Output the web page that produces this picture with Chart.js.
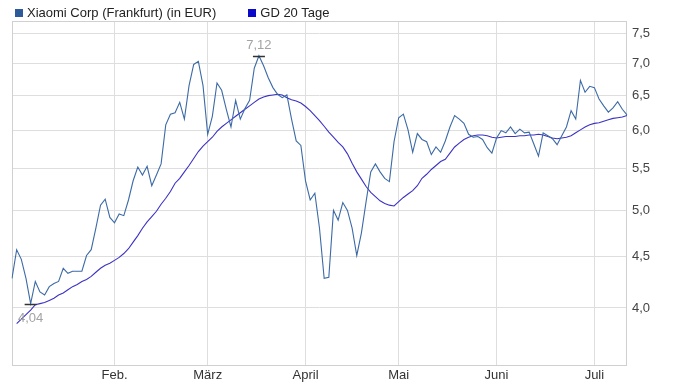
<!DOCTYPE html>
<html lang="de">
<head>
<meta charset="utf-8">
<script src="https://cdn.jsdelivr.net/npm/chart.js@4/dist/chart.umd.min.js"></script>
<style>
    html, body { margin: 0; padding: 0; background: #fff; }
    #wrap { position: relative; width: 676px; height: 388px; }
    #kursChart { position: absolute; left: 0; top: 0; }
    #legende {
        position: absolute; left: 15px; top: 5px;
        display: flex; gap: 32px;
        font: 13px/15px "Liberation Sans", Arial, sans-serif; color: #222;
    }
    #legende .eintrag { display: flex; align-items: center; gap: 4px; white-space: nowrap; }
    #legende .kasten { display: inline-block; width: 8px; height: 8px; }
</style>
</head>
<body>
<div id="wrap">
    <canvas id="kursChart" width="676" height="388"></canvas>
    <div id="legende"></div>
</div>
<script>
// Handelstage Frankfurt, 02.01.2025 - 10.07.2025
const handelstage = [
    '02.01.','03.01.','06.01.','07.01.','08.01.','09.01.','10.01.','13.01.','14.01.','15.01.','16.01.','17.01.',
    '20.01.','21.01.','22.01.','23.01.','24.01.','27.01.','28.01.','29.01.','30.01.','31.01.',
    '03.02.','04.02.','05.02.','06.02.','07.02.','10.02.','11.02.','12.02.','13.02.','14.02.',
    '17.02.','18.02.','19.02.','20.02.','21.02.','24.02.','25.02.','26.02.','27.02.','28.02.',
    '03.03.','04.03.','05.03.','06.03.','07.03.','10.03.','11.03.','12.03.','13.03.','14.03.',
    '17.03.','18.03.','19.03.','20.03.','21.03.','24.03.','25.03.','26.03.','27.03.','28.03.','31.03.',
    '01.04.','02.04.','03.04.','04.04.','07.04.','08.04.','09.04.','10.04.','11.04.','14.04.',
    '15.04.','16.04.','17.04.','22.04.','23.04.','24.04.','25.04.','28.04.','29.04.','30.04.',
    '02.05.','05.05.','06.05.','07.05.','08.05.','09.05.','12.05.','13.05.','14.05.','15.05.','16.05.',
    '19.05.','20.05.','21.05.','22.05.','23.05.','26.05.','27.05.','28.05.','29.05.','30.05.',
    '02.06.','03.06.','04.06.','05.06.','06.06.','09.06.','10.06.','11.06.','12.06.','13.06.',
    '16.06.','17.06.','18.06.','19.06.','20.06.','23.06.','24.06.','25.06.','26.06.','27.06.','30.06.',
    '01.07.','02.07.','03.07.','04.07.','07.07.','08.07.','09.07.','10.07.'
];

// Schlusskurse in EUR
const kurs = [
    4.28, 4.57, 4.47, 4.28, 4.04, 4.25, 4.15, 4.12, 4.20, 4.23,
    4.25, 4.38, 4.33, 4.35, 4.35, 4.35, 4.51, 4.57, 4.80, 5.06,
    5.13, 4.92, 4.86, 4.96, 4.94, 5.12, 5.35, 5.52, 5.42, 5.53,
    5.29, 5.42, 5.56, 6.08, 6.23, 6.25, 6.40, 6.16, 6.65, 6.98,
    7.03, 6.65, 5.95, 6.20, 6.69, 6.58, 6.30, 6.05, 6.43, 6.16,
    6.31, 6.43, 6.92, 7.12, 6.96, 6.77, 6.62, 6.52, 6.47, 6.51,
    6.16, 5.86, 5.80, 5.35, 5.12, 5.20, 4.80, 4.28, 4.29, 5.00,
    4.89, 5.09, 5.00, 4.80, 4.51, 4.75, 5.10, 5.46, 5.56, 5.46,
    5.38, 5.34, 5.85, 6.18, 6.23, 6.01, 5.71, 5.96, 5.88, 5.85,
    5.68, 5.78, 5.71, 5.86, 6.05, 6.21, 6.16, 6.10, 5.95, 5.91,
    5.92, 5.88, 5.77, 5.70, 5.90, 6.00, 5.97, 6.05, 5.96, 6.02,
    5.97, 5.98, 5.82, 5.66, 5.97, 5.93, 5.89, 5.81, 5.93, 6.05,
    6.28, 6.16, 6.73, 6.55, 6.64, 6.62, 6.45, 6.35, 6.26, 6.32,
    6.41, 6.30, 6.22
];

// gleitender Durchschnitt 20 Tage
const gd20 = [
    null, 3.86, 3.90, 3.94, 3.98, 4.03, 4.04, 4.05, 4.07, 4.09,
    4.12, 4.14, 4.17, 4.20, 4.22, 4.25, 4.27, 4.30, 4.34, 4.38,
    4.41, 4.43, 4.46, 4.49, 4.53, 4.58, 4.65, 4.72, 4.80, 4.87,
    4.93, 4.99, 5.07, 5.14, 5.22, 5.32, 5.38, 5.46, 5.54, 5.63,
    5.72, 5.79, 5.85, 5.91, 5.99, 6.05, 6.10, 6.15, 6.20, 6.25,
    6.30, 6.35, 6.40, 6.45, 6.48, 6.50, 6.51, 6.52, 6.51, 6.47,
    6.44, 6.42, 6.39, 6.34, 6.28, 6.21, 6.14, 6.06, 5.98, 5.91,
    5.84, 5.78, 5.69, 5.57, 5.46, 5.37, 5.28, 5.21, 5.16, 5.11,
    5.08, 5.06, 5.05, 5.10, 5.15, 5.19, 5.23, 5.29, 5.38, 5.43,
    5.49, 5.54, 5.59, 5.62, 5.70, 5.78, 5.83, 5.88, 5.91, 5.93,
    5.94, 5.94, 5.93, 5.91, 5.90, 5.91, 5.92, 5.92, 5.92, 5.93,
    5.93, 5.94, 5.94, 5.95, 5.94, 5.92, 5.90, 5.89, 5.90, 5.91,
    5.93, 5.97, 6.01, 6.05, 6.08, 6.10, 6.11, 6.13, 6.15, 6.17,
    6.18, 6.19, 6.21
];

const monate = ['Jan.', 'Feb.', 'März', 'April', 'Mai', 'Juni', 'Juli'];
const yTicks = [4.0, 4.5, 5.0, 5.5, 6.0, 6.5, 7.0, 7.5];

const monatVon = (i) => parseInt(handelstage[i].slice(3, 5), 10);
// erster Handelstag jedes Monats (ohne Januar)
const monatsStart = handelstage
    .map((t, i) => i)
    .filter(i => i > 0 && monatVon(i) !== monatVon(i - 1));

const komma = (v, n) => v.toFixed(n).replace('.', ',');

Chart.defaults.font.family = '"Liberation Sans", Arial, sans-serif';
Chart.defaults.font.size = 13;
Chart.defaults.color = '#333';

// heller Rahmen um die Zeichenfläche
const rahmen = {
    id: 'rahmen',
    beforeDatasetsDraw(chart) {
        const { ctx, chartArea: a } = chart;
        ctx.save();
        ctx.strokeStyle = '#d0d0d0';
        ctx.lineWidth = 1;
        ctx.strokeRect(a.left + 0.5, a.top + 0.5, a.right - a.left - 1, a.bottom - a.top);
        ctx.restore();
    }
};

// Hoch / Tief markieren
const extremwerte = {
    id: 'extremwerte',
    afterDatasetsDraw(chart) {
        const { ctx, scales: { x, y } } = chart;
        const hoch = kurs.indexOf(Math.max(...kurs));
        const tief = kurs.indexOf(Math.min(...kurs));
        ctx.save();
        ctx.font = '13px "Liberation Sans", Arial, sans-serif';
        ctx.textAlign = 'center';
        ctx.textBaseline = 'middle';
        [[hoch, -11], [tief, 14]].forEach(([i, dy]) => {
            const px = x.getPixelForValue(i);
            const py = Math.round(y.getPixelForValue(kurs[i])) + 0.5;
            ctx.strokeStyle = '#333';
            ctx.lineWidth = 1.5;
            ctx.beginPath();
            ctx.moveTo(px - 6, py);
            ctx.lineTo(px + 6, py);
            ctx.stroke();
            ctx.fillStyle = '#a3a3a3';
            ctx.fillText(komma(kurs[i], 2), px, py + dy);
        });
        ctx.restore();
    }
};

const chart = new Chart(document.getElementById('kursChart'), {
    type: 'line',
    data: {
        labels: handelstage,
        datasets: [{
            label: 'Xiaomi Corp (Frankfurt) (in EUR)',
            data: kurs,
            borderColor: '#3c6aa6',
            backgroundColor: '#2d5a98',
            borderWidth: 1.1,
            pointRadius: 0,
            tension: 0
        }, {
            label: 'GD 20 Tage',
            data: gd20,
            borderColor: '#3b32c4',
            backgroundColor: '#0a0ac8',
            borderWidth: 1.1,
            pointRadius: 0,
            tension: 0
        }]
    },
    options: {
        responsive: false,
        animation: false,
        events: [],
        layout: { padding: { left: 12, top: 21, right: 0, bottom: 0 } },
        plugins: {
            legend: { display: false },
            tooltip: { enabled: false }
        },
        scales: {
            x: {
                type: 'category',
                offset: false,
                border: { display: false },
                grid: { color: '#dedede', drawTicks: false },
                ticks: {
                    autoSkip: false,
                    maxRotation: 0,
                    padding: 3,
                    color: '#333',
                    callback: (v) => monate[monatVon(v) - 1]
                },
                afterBuildTicks: (s) => { s.ticks = monatsStart.map(v => ({ value: v })); },
                afterFit: (s) => { s.height = 23; }
            },
            y: {
                type: 'logarithmic',
                position: 'right',
                min: 3.511,
                max: 7.709,
                border: { display: false },
                grid: { color: '#dedede', drawTicks: false },
                ticks: {
                    padding: 5,
                    color: '#444',
                    callback: (v) => komma(v, 1)
                },
                afterBuildTicks: (s) => { s.ticks = yTicks.map(v => ({ value: v })); },
                afterFit: (s) => { s.width = 49; }
            }
        }
    },
    plugins: [rahmen, extremwerte]
});

// Legende aus den Datensätzen
const legende = document.getElementById('legende');
chart.data.datasets.forEach(ds => {
    const eintrag = document.createElement('span');
    eintrag.className = 'eintrag';
    const kasten = document.createElement('span');
    kasten.className = 'kasten';
    kasten.style.background = ds.backgroundColor;
    eintrag.appendChild(kasten);
    eintrag.appendChild(document.createTextNode(ds.label));
    legende.appendChild(eintrag);
});
</script>
</body>
</html>
